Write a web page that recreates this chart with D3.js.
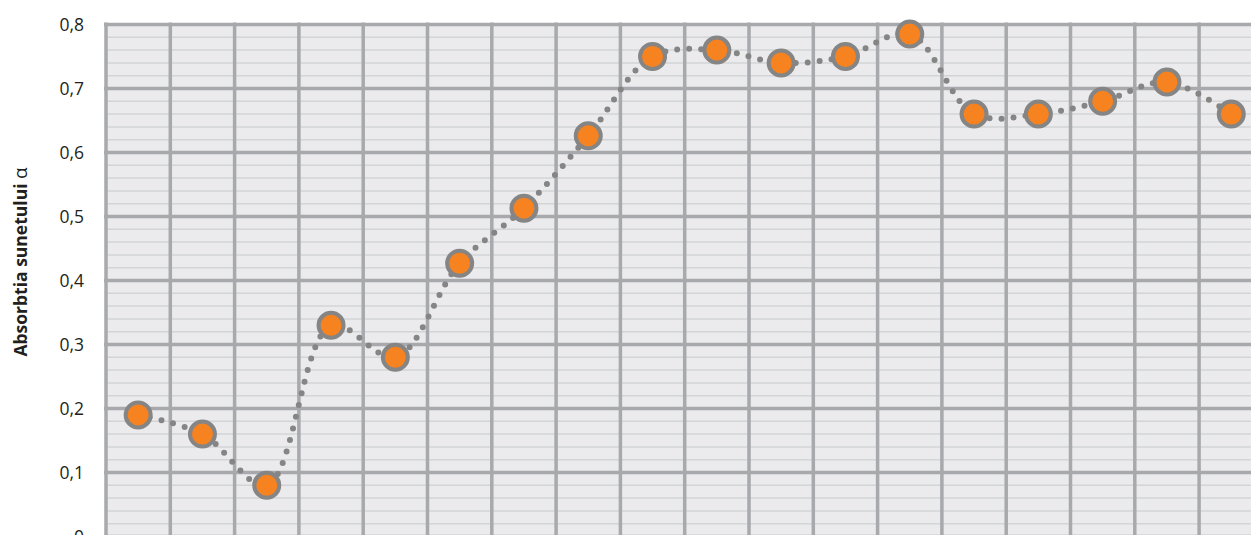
<!DOCTYPE html>
<html>
<head>
<meta charset="utf-8">
<script src="https://cdn.jsdelivr.net/npm/d3@7"></script>
<style>
  html, body { margin: 0; padding: 0; background: #ffffff; }
  svg { display: block; }
</style>
</head>
<body>
<svg id="chart" width="1251" height="535"></svg>
<script>
const categories = ["1","2","3","4","5","6","7","8","9","10","11","12","13","14","15","16","17","18"];
const absorption = [0.19, 0.16, 0.08, 0.33, 0.28, 0.427, 0.513, 0.626, 0.75, 0.76, 0.74, 0.75, 0.785, 0.66, 0.66, 0.68, 0.71, 0.66];
const yMajorTicks = [0, 0.1, 0.2, 0.3, 0.4, 0.5, 0.6, 0.7, 0.8];
const yTickLabels = ["0", "0,1", "0,2", "0,3", "0,4", "0,5", "0,6", "0,7", "0,8"];
const yMinorTicks = d3.range(0, 41).map(i => i * 0.02).filter(v => Math.round(v * 100) % 10 !== 0);
const yTitle = "Absorbtia sunetului ";
const yTitleSymbol = "α";

const svg = d3.select("#chart");
const pLeft = 106, pRight = 106 + 18 * 64.3, pTop = 24.5, pBottom = 536.5;

const x = d3.scaleBand().domain(categories).range([pLeft, pRight]).paddingInner(0).paddingOuter(0);
const y = d3.scaleLinear().domain([0, 0.8]).range([pBottom, pTop]);

// background
svg.append("rect")
  .attr("x", pLeft).attr("y", pTop)
  .attr("width", pRight - pLeft).attr("height", pBottom - pTop)
  .attr("fill", "#ebebed");

// minor horizontal grid
svg.append("g").selectAll("line").data(yMinorTicks).join("line")
  .attr("x1", pLeft).attr("x2", pRight)
  .attr("y1", d => y(d)).attr("y2", d => y(d))
  .attr("stroke", "#d3d4d6").attr("stroke-width", 1.5);

// major vertical grid (band boundaries)
const bounds = categories.map(c => x(c)).concat([x(categories[categories.length - 1]) + x.bandwidth()]);
svg.append("g").selectAll("line").data(bounds).join("line")
  .attr("x1", d => d).attr("x2", d => d)
  .attr("y1", pTop - 2).attr("y2", pBottom)
  .attr("stroke", "#a7a9ac").attr("stroke-width", 3.5);

// major horizontal grid
svg.append("g").selectAll("line").data(yMajorTicks).join("line")
  .attr("x1", pLeft - 2).attr("x2", pRight)
  .attr("y1", d => y(d)).attr("y2", d => y(d))
  .attr("stroke", "#a7a9ac").attr("stroke-width", 3.5);

// y axis labels via d3 axis
const yAxis = d3.axisLeft(y).tickValues(yMajorTicks)
  .tickFormat((d, i) => yTickLabels[i]).tickSize(0).tickPadding(0);
const gAxis = svg.append("g").attr("transform", `translate(84,0)`).call(yAxis);
gAxis.select(".domain").remove();
gAxis.selectAll("text")
  .attr("font-family", "'Open Sans', 'DejaVu Sans', sans-serif")
  .attr("font-size", 17.5)
  .attr("fill", "#231f20")
  .attr("dy", "0.35em");

// y title
const title = svg.append("text")
  .attr("transform", "translate(27,262) rotate(-90)")
  .attr("text-anchor", "middle")
  .attr("font-family", "'Open Sans', 'DejaVu Sans', sans-serif")
  .attr("font-size", 17.5)
  .attr("fill", "#231f20");
title.append("tspan").attr("font-weight", "bold").text(yTitle);
title.append("tspan").attr("font-weight", "normal").attr("font-size", 19).text(yTitleSymbol);

// dotted smoothed line
const line = d3.line()
  .x((d, i) => x(categories[i]) + x.bandwidth() / 2)
  .y(d => y(d))
  .curve(d3.curveCatmullRom.alpha(0.5));
svg.append("path")
  .datum(absorption)
  .attr("d", line)
  .attr("fill", "none")
  .attr("stroke", "#858585")
  .attr("stroke-width", 6)
  .attr("stroke-linecap", "round")
  .attr("stroke-dasharray", "0 12");

// markers
svg.append("g").selectAll("circle").data(absorption).join("circle")
  .attr("cx", (d, i) => x(categories[i]) + x.bandwidth() / 2)
  .attr("cy", d => y(d))
  .attr("r", 12.5)
  .attr("fill", "#f68220")
  .attr("stroke", "#858585")
  .attr("stroke-width", 4);
</script>
</body>
</html>
